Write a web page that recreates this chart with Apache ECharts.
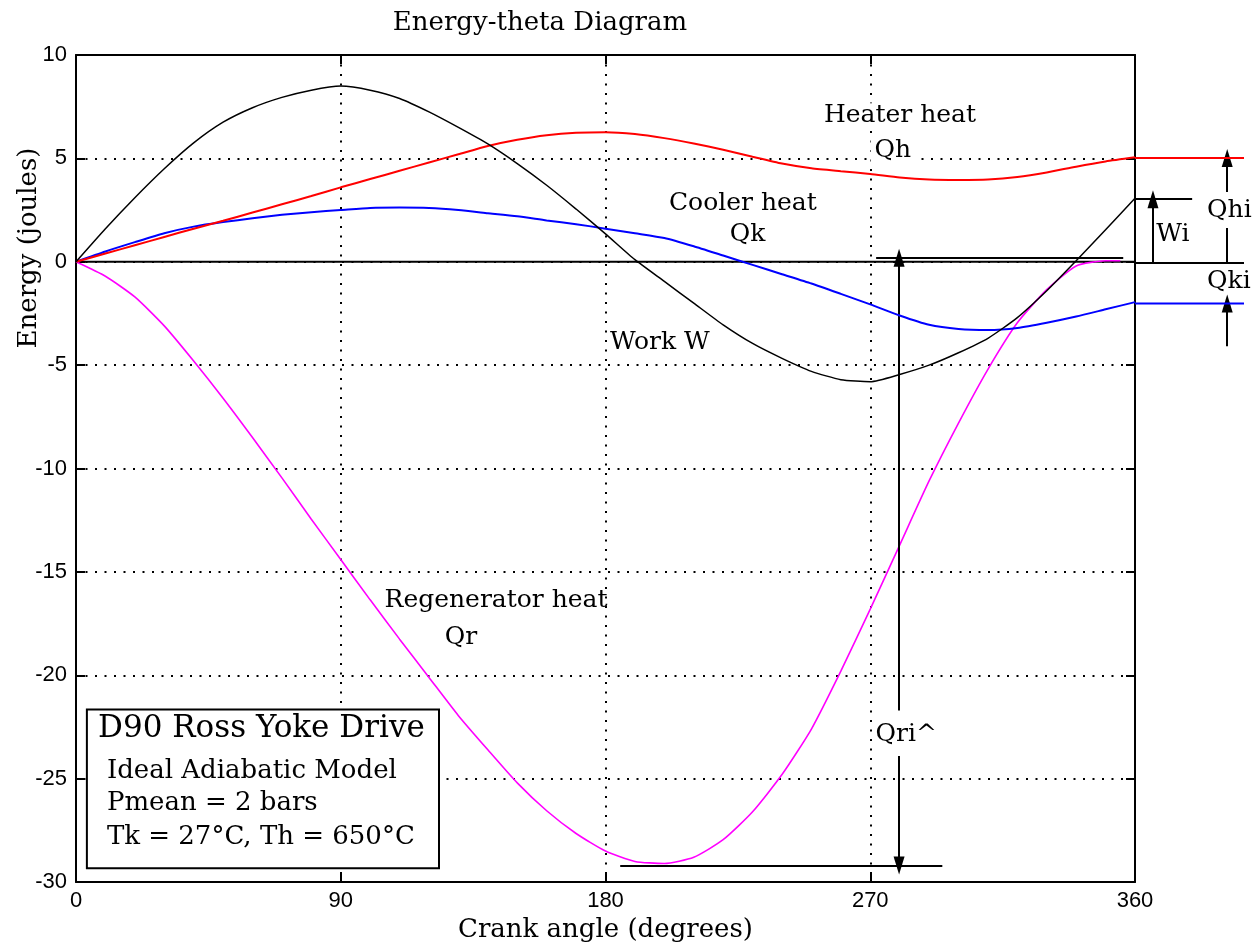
<!DOCTYPE html>
<html>
<head>
<meta charset="utf-8">
<script src="https://cdn.jsdelivr.net/npm/echarts@6/dist/echarts.min.js"></script>
<style>
html,body{margin:0;padding:0;background:#fff;}
#chart{width:1260px;height:948px;}
</style>
</head>
<body>
<div id="chart"></div>
<script>
// ---- data ----
var angles = [0,10,20,30,40,50,60,70,80,90,100,110,120,130,140,150,160,170,180,190,200,210,220,230,240,250,260,270,280,290,300,310,320,330,340,350,360];
var workW = [0,1.6,3.1,4.5,5.75,6.75,7.45,7.95,8.3,8.5,8.3,7.9,7.25,6.5,5.7,4.75,3.7,2.55,1.35,0.1,-0.95,-2.0,-3.05,-3.95,-4.67,-5.3,-5.7,-5.8,-5.45,-5.0,-4.4,-3.7,-2.7,-1.4,0.05,1.55,3.07];
var heaterQh = [0,0.4,0.8,1.2,1.6,1.98,2.38,2.78,3.18,3.6,4.0,4.4,4.8,5.2,5.6,5.9,6.12,6.24,6.27,6.18,5.98,5.72,5.42,5.08,4.75,4.52,4.38,4.25,4.08,3.98,3.96,3.98,4.1,4.32,4.6,4.85,5.05];
var coolerQk = [0,0.5,0.95,1.38,1.7,1.92,2.1,2.27,2.4,2.5,2.6,2.62,2.6,2.5,2.35,2.2,2.0,1.82,1.6,1.38,1.15,0.75,0.3,-0.15,-0.6,-1.05,-1.55,-2.06,-2.6,-3.05,-3.25,-3.3,-3.2,-2.95,-2.65,-2.3,-1.95];
var regenAngles = [0,10,20,30,40,50,60,70,80,90,100,110,120,130,140,150,160,170,180,190,200,210,220,230,240,250,260,270,280,290,300,310,320,330,340,350,355];
var regenQr = [0,-0.7,-1.7,-3.1,-4.8,-6.6,-8.5,-10.45,-12.45,-14.4,-16.35,-18.25,-20.1,-21.95,-23.6,-25.2,-26.55,-27.65,-28.5,-29.0,-29.1,-28.8,-27.95,-26.6,-24.8,-22.6,-19.8,-16.8,-13.7,-10.6,-7.8,-5.2,-2.95,-1.35,-0.2,0.05,0.05];
// horizontal continuations of end values to the right of the frame (second panel)
var extAngles = [360,397];
var heaterExt = [5.05,5.05];
var coolerExt = [-1.95,-1.95];
var zeroExt = [0,0];
var zeroLine = [[0,0],[360,0]];
var xTicks = [0,90,180,270,360];
var yTicks = [10,5,0,-5,-10,-15,-20,-25,-30];

function pairs(xs, ys){ return xs.map(function(x,i){return [x, ys[i]];}); }

var SERIF = "'DejaVu Serif', serif";
var SANS = "'Liberation Sans Narrow', 'Liberation Sans', Arial, sans-serif";

var chart = echarts.init(document.getElementById('chart'), null, {renderer:'canvas'});

function mlLine(a, b, arrowEnd){
  return [{coord:a, symbol:'none'}, {coord:b, symbol: arrowEnd ? 'triangle' : 'none'}];
}
var frameAxis = {
  axisLine:{show:true, onZero:false, lineStyle:{color:'#000', width:2}},
  axisTick:{show:true, inside:true, length:9, lineStyle:{color:'#000', width:2}}
};
var dotted = {show:true, lineStyle:{color:'#000', width:2, type:[2,7.5]}};
var hidden = {show:false, axisLine:{show:false}, axisTick:{show:false}, axisLabel:{show:false}, splitLine:{show:false}};
var markStyle = {silent:true, animation:false, symbolSize:[11,18], label:{show:false},
  lineStyle:{color:'#000', width:2, type:'solid'}, emphasis:{disabled:true}};
var SMOOTH = 0.2;

var option = {
  animation:false,
  backgroundColor:'#fff',
  grid:[
    {left:76, right:125, top:55, bottom:61, containLabel:false},
    {left:1135, width:109, top:55, bottom:61, containLabel:false}
  ],
  xAxis:[
    Object.assign({
      type:'value', min:0, max:360, interval:90, position:'bottom', gridIndex:0,
      axisLabel:{color:'#000', fontSize:22, fontFamily:SANS, margin:8,
        formatter:function(v){return xTicks.indexOf(v)>=0 ? String(v) : '';}},
      splitLine:dotted,
      name:'Crank angle (degrees)', nameLocation:'middle', nameGap:33,
      nameTextStyle:{color:'#000', fontSize:26, fontFamily:SERIF}
    }, frameAxis),
    Object.assign({
      type:'value', min:0, max:360, interval:90, position:'top', gridIndex:0,
      axisLabel:{show:false}, splitLine:{show:false}
    }, frameAxis),
    Object.assign({type:'value', min:360, max:397, gridIndex:1}, hidden)
  ],
  yAxis:[
    Object.assign({
      type:'value', min:-30, max:10, interval:5, position:'left', gridIndex:0,
      axisLabel:{color:'#000', fontSize:22, fontFamily:SANS, margin:9,
        formatter:function(v){return yTicks.indexOf(v)>=0 ? String(v) : '';}},
      splitLine:dotted
    }, frameAxis),
    Object.assign({
      type:'value', min:-30, max:10, interval:5, position:'right', gridIndex:0,
      axisLabel:{show:false}, splitLine:{show:false}
    }, frameAxis),
    Object.assign({type:'value', min:-30, max:10, gridIndex:1}, hidden)
  ],
  series:[
    {
      name:'zero', type:'line', xAxisIndex:0, yAxisIndex:0, data:zeroLine, symbol:'none', silent:true,
      lineStyle:{color:'#000', width:2}, z:3,
      markArea:{
        silent:true,
        itemStyle:{color:'#fff', borderColor:'#000', borderWidth:2},
        data:[[{coord:[3.7,-21.65]},{coord:[123.4,-29.33]}]]
      },
      markLine:Object.assign({
        data:[
          mlLine([272,0.2],[356,0.2],false),
          mlLine([185,-29.2],[294.5,-29.2],false),
          mlLine([279.8,-21.7],[279.8,0.2],true),
          mlLine([279.8,-23.9],[279.8,-29.2],true)
        ]
      }, markStyle)
    },
    {
      name:'zero ext', type:'line', xAxisIndex:2, yAxisIndex:2, data:pairs(extAngles, zeroExt), symbol:'none', silent:true,
      clip:false, lineStyle:{color:'#000', width:2}, z:3,
      markLine:Object.assign({
        data:[
          mlLine([360,3.07],[379.4,3.07],false),
          mlLine([366.1,0],[366.1,3.07],true),
          mlLine([391.3,0],[391.3,1.68],false),
          mlLine([391.3,3.41],[391.3,5.05],true),
          mlLine([391.3,-4.0],[391.3,-1.95],true)
        ]
      }, markStyle)
    },
    {name:'Regenerator heat Qr', type:'line', data:pairs(regenAngles, regenQr), symbol:'none', smooth:SMOOTH,
      lineStyle:{color:'#ff00ff', width:1.6}, z:4},
    {name:'Cooler heat Qk', type:'line', data:pairs(angles, coolerQk), symbol:'none', smooth:SMOOTH,
      lineStyle:{color:'#0000ff', width:2}, z:5},
    {name:'Cooler ext', type:'line', xAxisIndex:2, yAxisIndex:2, data:pairs(extAngles, coolerExt), symbol:'none',
      lineStyle:{color:'#0000ff', width:2}, z:5},
    {name:'Heater heat Qh', type:'line', data:pairs(angles, heaterQh), symbol:'none', smooth:SMOOTH,
      lineStyle:{color:'#ff0000', width:2}, z:6},
    {name:'Heater ext', type:'line', xAxisIndex:2, yAxisIndex:2, data:pairs(extAngles, heaterExt), symbol:'none',
      lineStyle:{color:'#ff0000', width:2}, z:6},
    {name:'Work W', type:'line', data:pairs(angles, workW), symbol:'none', smooth:SMOOTH,
      lineStyle:{color:'#000', width:1.5}, z:7}
  ]
};
chart.setOption(option);

// text annotations anchored in data coordinates
var notes = [
  {t:'Heater heat', p:[280.1,7.06], a:'center', s:25, bg:true},
  {t:'Qh', p:[277.7,5.38], a:'center', s:25, bg:true},
  {t:'Cooler heat', p:[226.7,2.83], a:'center', s:25},
  {t:'Qk', p:[228.3,1.30], a:'center', s:25},
  {t:'Work W', p:[198.5,-3.89], a:'center', s:25},
  {t:'Regenerator heat', p:[142.8,-16.37], a:'center', s:25},
  {t:'Qr', p:[130.9,-18.15], a:'center', s:25},
  {t:'Qri^', p:[282.2,-22.85], a:'center', s:25},
  {t:'Wi', p:[372.9,1.30], a:'center', s:25},
  {t:'Qhi', p:[384.5,2.5], a:'left', s:25},
  {t:'Qki', p:[384.5,-0.96], a:'left', s:25},
  {t:'D90 Ross Yoke Drive', p:[7.5,-22.6], a:'left', s:31},
  {t:'Ideal Adiabatic Model', p:[10.5,-24.63], a:'left', s:26},
  {t:'Pmean = 2 bars', p:[10.5,-26.2], a:'left', s:26},
  {t:'Tk = 27°C, Th = 650°C', p:[10.5,-27.85], a:'left', s:26}
];
var gfx = notes.map(function(n){
  var px = chart.convertToPixel({xAxisIndex:0, yAxisIndex:0}, n.p);
  var st = {text:n.t, fill:'#000', font: n.s + 'px ' + SERIF, align:n.a, verticalAlign:'middle'};
  if (n.bg) { st.backgroundColor = '#fff'; st.padding = [0,4]; }
  return {type:'text', x:px[0], y:px[1], z:100, silent:true, style:st};
});
gfx.push({type:'text', x:540, y:23, z:100, silent:true,
  style:{text:'Energy-theta Diagram', fill:'#000', font:'26px ' + SERIF, align:'center', verticalAlign:'middle'}});
gfx.push({type:'text', x:29, y:248, rotation:Math.PI/2, z:100, silent:true,
  style:{text:'Energy (joules)', fill:'#000', font:'26px ' + SERIF, align:'center', verticalAlign:'middle'}});
chart.setOption({graphic:gfx});
</script>
</body>
</html>
